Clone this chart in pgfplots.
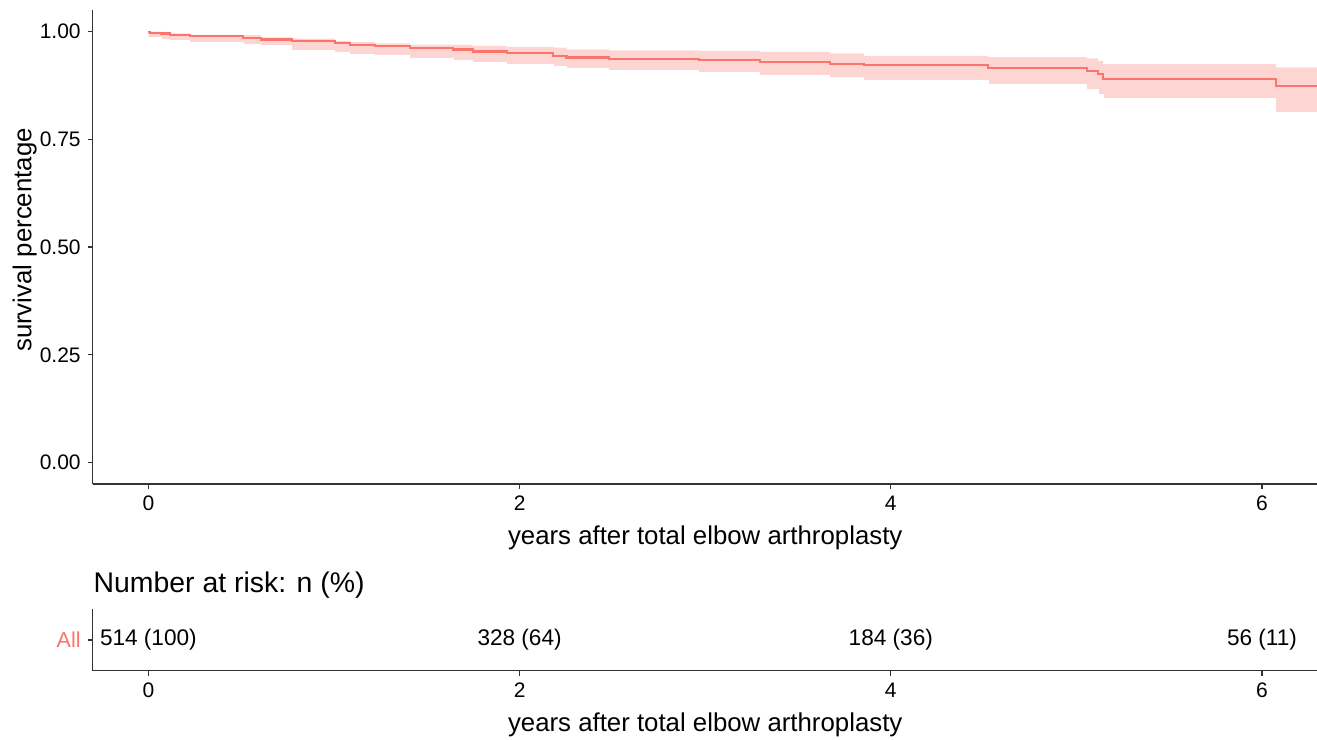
\documentclass[border=0pt]{standalone}
\usepackage{pgfplots}
\pgfplotsset{compat=1.18}
\usepackage{fontspec}
\setmainfont{Liberation Sans}
\definecolor{rline}{HTML}{F8766D}
\definecolor{rband}{HTML}{FDD6D3}
\definecolor{axc}{HTML}{333333}

\pgfplotstableread{
t lo hi s
0     0.986 1.000 1.000
0.008 0.986 1.000 0.998
0.071 0.982 0.999 0.996
0.116 0.979 0.996 0.993
0.224 0.975 0.993 0.990
0.511 0.971 0.992 0.986
0.605 0.967 0.987 0.982
0.772 0.957 0.984 0.978
1.005 0.952 0.979 0.974
1.086 0.948 0.976 0.970
1.220 0.945 0.973 0.966
1.409 0.937 0.970 0.963
1.642 0.934 0.970 0.959
1.747 0.928 0.967 0.954
1.930 0.925 0.965 0.950
2.181 0.919 0.963 0.944
2.253 0.915 0.959 0.940
2.481 0.909 0.957 0.937
2.966 0.905 0.955 0.934
3.295 0.899 0.953 0.930
3.672 0.894 0.950 0.926
3.855 0.886 0.944 0.922
4.525 0.878 0.941 0.916
5.055 0.867 0.938 0.908
5.117 0.855 0.932 0.901
5.144 0.844 0.925 0.890
6.075 0.813 0.917 0.874
6.296 0.813 0.917 0.874
}\kmdata

\pgfplotsset{
  commonax/.style={
    scale only axis,
    width=612.5pt,
    xmin=-0.3, xmax=6.3,
    xtick={0,2,4,6},
    axis x line*=bottom, axis y line*=left,
    axis line style={axc, line width=0.65pt},
    tick style={axc, line width=0.65pt},
    tick align=outside,
    major tick length=2.5pt,
    /pgf/number format/assume math mode=true,
    ticklabel style={font=\fontsize{10.5pt}{12pt}\selectfont, text=black},
    label style={font=\fontsize{12.9pt}{15pt}\selectfont, text=black},
    xlabel={years after total elbow arthroplasty},
    xlabel style={at={(axis description cs:0.5,0)}, anchor=center, yshift=-27pt},
    every axis title shift=0pt,
  }
}

\begin{document}
\begin{tikzpicture}
\useasboundingbox (0,0) rectangle (658.5pt,-369.5pt);
\begin{axis}[commonax,
  at={(46.35pt,-242pt)}, anchor=south west,
  height=236.9pt,
  ymin=-0.05, ymax=1.05,
  ytick={0,0.25,0.5,0.75,1},
  yticklabel style={/pgf/number format/fixed, /pgf/number format/fixed zerofill, /pgf/number format/precision=2},
  ylabel={survival percentage},
  ylabel style={at={(axis description cs:-0.0555,0.515)}, anchor=center},
]
\addplot[draw=none, fill=rband, const plot] table[x=t, y=hi] {\kmdata} \closedcycle;
\addplot[draw=white, line width=0.5pt, fill=white, const plot] table[x=t, y=lo] {\kmdata} \closedcycle;
\addplot[rline, line width=1.1pt, const plot] table[x=t, y=s] {\kmdata};
\end{axis}
\begin{axis}[commonax,
  at={(46.35pt,-335.35pt)}, anchor=south west,
  height=30.7pt,
  ymin=0, ymax=1,
  ytick={0.5}, yticklabels={All},
  yticklabel style={text=rline, font=\fontsize{10.8pt}{12pt}\selectfont},
  title={Number at risk: n (\%)},
  title style={at={(axis description cs:0,1)}, anchor=base west, inner sep=0pt, xshift=0.3pt, yshift=8.3pt, font=\fontsize{14.2pt}{16pt}\selectfont},
]
\addplot[only marks, mark=none, nodes near coords, point meta=explicit symbolic,
  every node near coord/.append style={anchor=center, text=black, font=\fontsize{11.3pt}{13pt}\selectfont}]
  table[x=x, y=y, meta=lab, col sep=comma, row sep=\\] {
x,y,lab\\
0,0.5,514 (100)\\
2,0.5,328 (64)\\
4,0.5,184 (36)\\
6,0.5,56 (11)\\
};
\end{axis}
\end{tikzpicture}
\end{document}
